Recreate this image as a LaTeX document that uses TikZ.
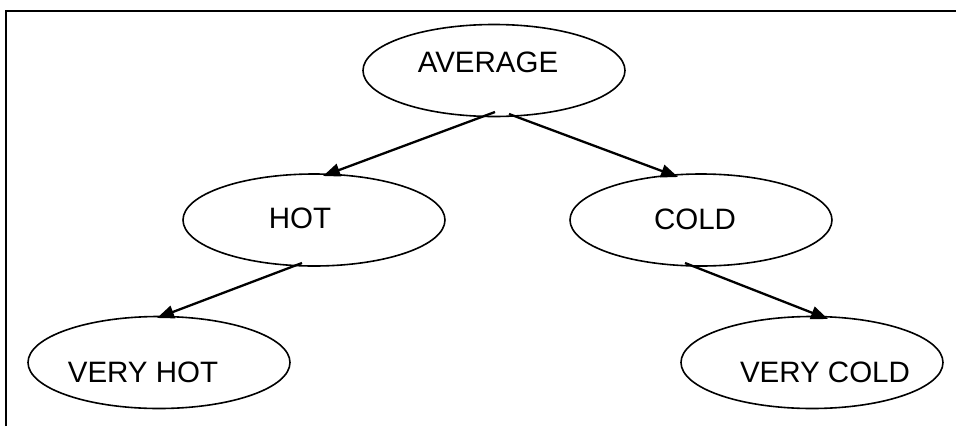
\documentclass[tikz,border=0pt]{standalone}
\usepackage{fontspec}
\setmainfont{Liberation Sans}
\usetikzlibrary{shapes.geometric,arrows.meta,calc}

\tikzset{
  state/.style={draw, ellipse, line width=1.6pt, inner sep=0pt,
    minimum width=262pt, minimum height=92pt},
  word/.style={font=\fontsize{29.5}{35}\selectfont, inner sep=0pt},
  link/.style={line width=2.3pt, -{Triangle[length=17pt,width=13pt]}},
  frame/.style={line width=2pt, black}
}

\begin{document}
\begin{tikzpicture}[x=1pt, y=-1pt]
  \useasboundingbox (0,0) rectangle (956,426);

  % page frame, open to the right and below
  \coordinate (fb) at (6,426);
  \coordinate (fc) at (6,11);
  \coordinate (fr) at (956,11);
  \draw[frame] (fb) -- (fc) -- (fr);

  % the states
  \node[state, label={[word, shift={(-6,-8)}]center:AVERAGE}] (avg) at (494,70.5) {};
  \node[state, label={[word, shift={(-14,-1.5)}]center:HOT}] (hot) at (314,220) {};
  \node[state, label={[word, shift={(-6,-1)}]center:COLD}] (cold) at (701,220) {};
  \node[state, label={[word, shift={(-16,10)}]center:VERY HOT}] (vhot) at (159,362.5) {};
  \node[state, label={[word, shift={(13,10)}]center:VERY COLD}] (vcold) at (812,362.5) {};

  % arrows between them
  \draw[link] ($(avg)+(1,41.5)$) -- ($(hot)+(9,-44)$);
  \draw[link] ($(avg)+(15,43.5)$) -- ($(cold)+(-23,-43)$);
  \draw[link] ($(hot)+(-12,43)$) -- ($(vhot)+(-2,-44.5)$);
  \draw[link] ($(cold)+(-16,43)$) -- ($(vcold)+(16,-43.5)$);
\end{tikzpicture}
\end{document}
